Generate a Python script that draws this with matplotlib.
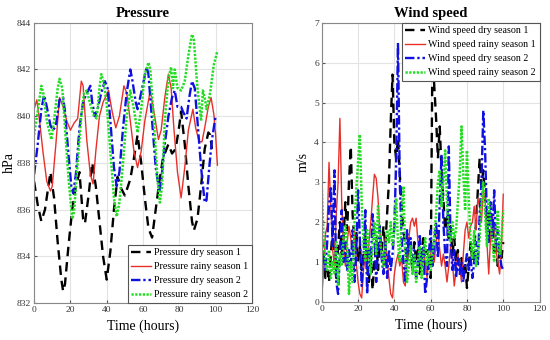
import numpy as np
import matplotlib
matplotlib.use("Agg")
import matplotlib.pyplot as plt

# ---- pressure (hPa) at the turning points ----
p_dry1_t = [0, 2, 4, 6, 9, 11, 13, 15, 16, 17, 19, 21, 23, 25, 27, 28, 30, 32, 34, 36, 38, 40,
            42, 44, 46, 48, 50, 53, 55, 57, 59, 61, 63, 65, 67, 69, 71, 74, 76, 78, 80, 81, 83,
            85, 87, 88, 90, 92, 94, 96, 97, 98]
p_dry1 = [837.2, 836.2, 835.5, 836.0, 837.6, 836.5, 834.6, 833.0, 832.5, 832.8, 834.5, 836.0,
          837.0, 837.6, 835.6, 835.4, 836.6, 838.0, 837.0, 835.5, 834.0, 833.0, 834.2, 836.0,
          837.4, 836.9, 836.6, 837.3, 838.2, 839.2, 838.0, 836.5, 835.2, 834.8, 836.0, 837.2,
          838.2, 838.8, 838.4, 838.6, 839.6, 840.2, 838.8, 837.0, 835.5, 835.1, 835.6, 837.0,
          838.6, 839.3, 839.2, 838.6]

p_rainy1_t = [0, 1.5, 3, 5, 7, 9, 10, 12, 14, 16, 18, 20, 22, 24, 26, 27, 29, 31, 32.5, 34, 36,
              38, 41, 43, 45, 47, 49.5, 51, 53, 55, 57, 59, 61, 64, 66, 68.5, 70, 72, 74, 75.5,
              77, 79, 81, 83, 85, 87.5, 89, 91, 92.5, 94, 96, 97.5, 99, 100, 101]
p_rainy1 = [840.3, 840.7, 839.8, 838.4, 837.2, 836.8, 837.0, 838.8, 840.8, 840.4, 839.8, 839.4,
            839.7, 839.9, 841.5, 841.3, 839.0, 837.5, 837.1, 838.5, 840.0, 840.6, 841.1, 840.2,
            839.5, 840.0, 841.3, 841.0, 839.8, 838.5, 837.8, 838.5, 839.8, 841.1, 840.2, 839.0,
            839.4, 840.8, 841.8, 841.2, 839.5, 837.6, 836.5, 837.8, 839.4, 840.3, 839.5, 838.9,
            838.9, 839.5, 840.4, 840.8, 840.1, 839.2, 837.9]

p_dry2_t = [0, 2, 4, 5.5, 7, 9, 10.5, 12, 14, 16, 17, 19, 20.5, 21.5, 23, 25, 27, 28.5, 31, 32,
            33.5, 35, 37, 39, 40.5, 42, 44, 45.5, 47, 49, 51, 53, 54, 56, 57, 59, 62, 63, 65, 67,
            69, 70, 72, 74, 76, 77.5, 79, 81, 82, 84, 85.5, 87, 88.5, 90, 92, 94, 95, 96.5, 98, 100]
p_dry2 = [837.5, 838.8, 840.3, 840.9, 840.4, 839.6, 839.4, 839.6, 840.7, 840.8, 840.2, 838.3,
          837.0, 836.7, 837.5, 839.5, 840.6, 840.9, 841.3, 840.6, 840.0, 840.3, 841.0, 841.5,
          841.2, 839.8, 837.8, 837.0, 837.6, 839.5, 841.0, 842.0, 841.6, 840.6, 840.3, 841.0,
          842.1, 841.8, 839.8, 837.8, 836.8, 837.2, 838.8, 840.0, 840.8, 841.1, 840.4, 840.4,
          840.2, 839.9, 840.8, 841.5, 841.2, 839.8, 837.8, 836.3, 836.4, 837.8, 839.0, 840.0]

p_rainy2_t = [0, 2, 4, 5, 7, 9.5, 11, 13, 14, 15.5, 17, 19, 21, 22, 24, 26, 27.5, 29, 31, 33,
              34.5, 36, 37, 38.5, 40, 42, 44, 45.5, 47, 49, 51, 53, 55, 57, 59, 61, 63, 64, 66,
              68, 69.3, 70.5, 72, 74, 75.5, 76.5, 77.5, 79, 81, 83, 85, 87, 88, 90, 92, 93, 94,
              95, 97, 99, 101]
p_rainy2 = [839.2, 840.2, 841.3, 841.0, 839.8, 839.0, 839.8, 841.2, 841.6, 841.2, 839.5, 837.3,
            835.6, 835.9, 838.0, 840.0, 841.0, 841.1, 840.5, 840.0, 839.9, 841.2, 841.8, 841.4,
            840.5, 838.5, 836.5, 835.7, 836.3, 838.0, 840.0, 841.1, 840.3, 839.3, 840.3, 841.8,
            842.3, 842.0, 839.8, 837.3, 836.3, 837.0, 839.8, 841.6, 842.1, 841.2, 842.0, 841.2,
            841.1, 841.5, 842.6, 843.5, 843.3, 841.2, 839.8, 841.1, 840.8, 840.3, 841.0, 842.2,
            842.8]

# ---- wind speed (m/s), hourly 0..100 ----
hours = list(range(101))
w_dry1 = [1.6, 1.0, 0.6, 0.8, 0.5, 1.2, 1.8, 1.0, 0.6, 1.4, 2.0, 1.2, 1.6, 2.5, 1.8, 3.0, 3.9,
          2.2, 1.5, 1.8, 1.0, 1.4, 0.8, 1.2, 1.7, 0.9, 0.5, 1.3, 0.3, 1.0, 1.6, 0.8, 1.5, 1.2,
          1.9, 1.4, 2.2, 3.0, 4.5, 5.7, 4.0, 3.6, 4.1, 3.2, 2.4, 1.8, 1.4, 1.0, 1.6, 1.2, 0.8,
          1.5, 1.0, 1.3, 0.7, 1.2, 1.6, 0.9, 1.3, 0.8, 0.6, 6.3, 5.4, 4.6, 3.6, 4.4, 3.3, 2.6,
          1.8, 2.2, 1.6, 1.9, 1.2, 1.6, 1.0, 1.3, 0.9, 1.1, 0.7, 1.0, 0.35, 0.9, 1.5, 1.0, 1.3,
          2.0, 2.8, 3.6, 2.9, 3.3, 2.6, 1.8, 2.3, 1.5, 1.9, 1.2, 1.4, 0.9, 1.3, 1.1, 1.5]
w_rainy1 = [0.1, 0.8, 1.7, 1.9, 3.5, 2.4, 1.3, 0.9, 2.2, 3.0, 4.6, 2.5, 1.4, 0.9, 1.5, 1.9, 1.6,
            1.2, 1.8, 1.0, 0.5, 0.2, 0.1, 0.8, 1.2, 0.9, 1.5, 2.0, 2.6, 3.2, 3.1, 2.6, 1.8, 1.2,
            0.9, 1.6, 1.1, 0.6, 0.2, 0.1, 0.7, 1.0, 1.2, 0.9, 1.1, 0.5, 0.4, 1.0, 1.6, 2.0, 2.1,
            1.9, 2.1, 1.5, 1.1, 0.9, 1.3, 1.0, 0.6, 1.1, 1.2, 1.4, 1.0, 1.5, 1.8, 1.3, 0.9, 1.2,
            0.9, 0.5, 0.9, 1.4, 1.0, 0.4, 0.8, 1.2, 0.9, 0.5, 1.2, 1.8, 2.0, 1.6, 1.9, 2.0, 2.4,
            1.8, 2.6, 2.4, 2.0, 2.8, 2.6, 1.5, 0.7, 1.6, 2.2, 1.8, 1.3, 1.0, 0.7, 1.3, 2.7]
w_dry2 = [1.6, 1.2, 0.8, 1.5, 2.4, 2.9, 1.4, 3.3, 0.5, 0.2, 1.2, 2.3, 1.0, 1.5, 0.8, 1.3, 0.9,
          1.8, 0.5, 1.2, 2.8, 1.6, 0.4, 1.1, 2.3, 0.2, 1.3, 0.9, 2.2, 1.7, 0.5, 1.4, 1.9, 1.1,
          0.7, 1.5, 0.6, 1.3, 0.8, 1.2, 1.9, 3.5, 6.5, 3.0, 1.6, 1.0, 0.5, 1.8, 1.2, 1.6, 0.8,
          1.3, 0.6, 1.0, 1.7, 0.9, 1.4, 0.2, 0.6, 1.2, 1.8, 0.9, 1.5, 2.0, 1.1, 2.5, 3.7, 2.0,
          1.2, 0.9, 3.9, 1.5, 0.8, 1.3, 0.6, 1.1, 0.7, 1.0, 0.5, 0.9, 1.2, 0.8, 1.1, 0.6, 1.0,
          1.5, 0.9, 2.2, 3.0, 4.8, 3.8, 2.1, 1.5, 2.5, 1.6, 2.8, 1.4, 1.8, 1.2, 0.9, 0.8]
w_rainy2 = [2.9, 1.6, 1.0, 0.8, 1.3, 0.6, 1.0, 0.7, 1.5, 0.4, 1.2, 0.9, 1.6, 1.9, 1.4, 0.2, 1.0,
            0.5, 1.9, 2.8, 3.5, 4.2, 2.5, 1.5, 1.0, 1.8, 1.3, 0.7, 1.5, 2.0, 1.2, 2.4, 1.6, 1.2,
            0.9, 1.3, 1.8, 1.5, 2.0, 1.4, 1.9, 2.6, 1.5, 1.0, 2.2, 2.9, 1.2, 0.5, 0.9, 1.4, 0.7,
            1.2, 0.5, 1.0, 1.4, 0.6, 1.2, 1.6, 0.9, 1.3, 0.8, 1.2, 1.7, 2.2, 3.0, 3.3, 2.4, 3.0,
            3.8, 2.5, 1.7, 1.5, 2.0, 1.6, 1.8, 2.5, 3.2, 4.4, 3.2, 2.3, 3.8, 2.6, 1.5, 1.1, 1.8,
            0.9, 1.2, 1.6, 2.5, 3.0, 2.2, 1.4, 2.6, 2.0, 1.5, 1.0, 1.8, 2.3, 1.2, 1.6, 2.3]

plt.rcParams['font.family'] = ['Liberation Serif', 'DejaVu Serif']

fig = plt.figure(figsize=(5.5, 3.4), dpi=100)
ax1 = fig.add_axes([0.062, 0.109, 0.396, 0.824])
ax2 = fig.add_axes([0.585, 0.112, 0.396, 0.821])

# MATLAB-ish styles
styles = [
    dict(color='black', lw=1.7, dashes=(4, 2.5)),
    dict(color='#e8302a', lw=1.0),
    dict(color='#1010e0', lw=1.7, dashes=(4, 1.2, 1, 1.2)),
    dict(color='#22dd22', lw=1.8, dashes=(0.9, 0.6)),
]

p_series = [(p_dry1_t, p_dry1, 'Pressure dry season 1'),
            (p_rainy1_t, p_rainy1, 'Pressure rainy season 1'),
            (p_dry2_t, p_dry2, 'Pressure dry season 2'),
            (p_rainy2_t, p_rainy2, 'Pressure rainy season 2')]
for (t, v, lab), st in zip(p_series, styles):
    ax1.plot(t, v, label=lab, **st)

w_series = [(w_dry1, 'Wind speed dry season 1'),
            (w_rainy1, 'Wind speed rainy season 1'),
            (w_dry2, 'Wind speed dry season 2'),
            (w_rainy2, 'Wind speed rainy season 2')]
for (v, lab), st in zip(w_series, styles):
    ax2.plot(hours, v, label=lab, **st)

ax1.set_xlim(0, 120)
ax1.set_ylim(832, 844)
ax1.set_yticks(range(832, 845, 2))
ax2.set_xlim(0, 120)
ax2.set_ylim(0, 7)
ax2.set_yticks(range(0, 8))

for ax, title, ylab in [(ax1, 'Pressure', 'hPa'), (ax2, 'Wind speed', 'm/s')]:
    ax.set_xticks(range(0, 121, 20))
    ax.grid(True, color='#e3e3e3', lw=0.8)
    ax.set_axisbelow(True)
    ax.tick_params(direction='in', length=2.5, labelsize=6.8, colors='#555555',
                   labelcolor='#333333', pad=2)
    for s in ax.spines.values():
        s.set_color('#888888')
        s.set_linewidth(0.8)
    ax.set_title(title, fontsize=10.5, fontweight='bold', pad=4)
    ax.set_xlabel('Time (hours)', fontsize=10, labelpad=4)
    ax.set_ylabel(ylab, fontsize=10, labelpad=3)
ax1.yaxis.set_label_coords(-0.085, 0.5)

leg_kw = dict(fontsize=7.2, handlelength=2.0, handletextpad=0.3, labelspacing=0.5,
              borderpad=0.35, borderaxespad=0.0, fancybox=False, framealpha=1)
lg1 = ax1.legend(loc='lower right', **leg_kw)
lg2 = ax2.legend(loc='upper right', **leg_kw)
for lg in (lg1, lg2):
    lg.get_frame().set_edgecolor('#555555')
    lg.get_frame().set_linewidth(0.8)

fig.savefig('out.png', dpi=100)
